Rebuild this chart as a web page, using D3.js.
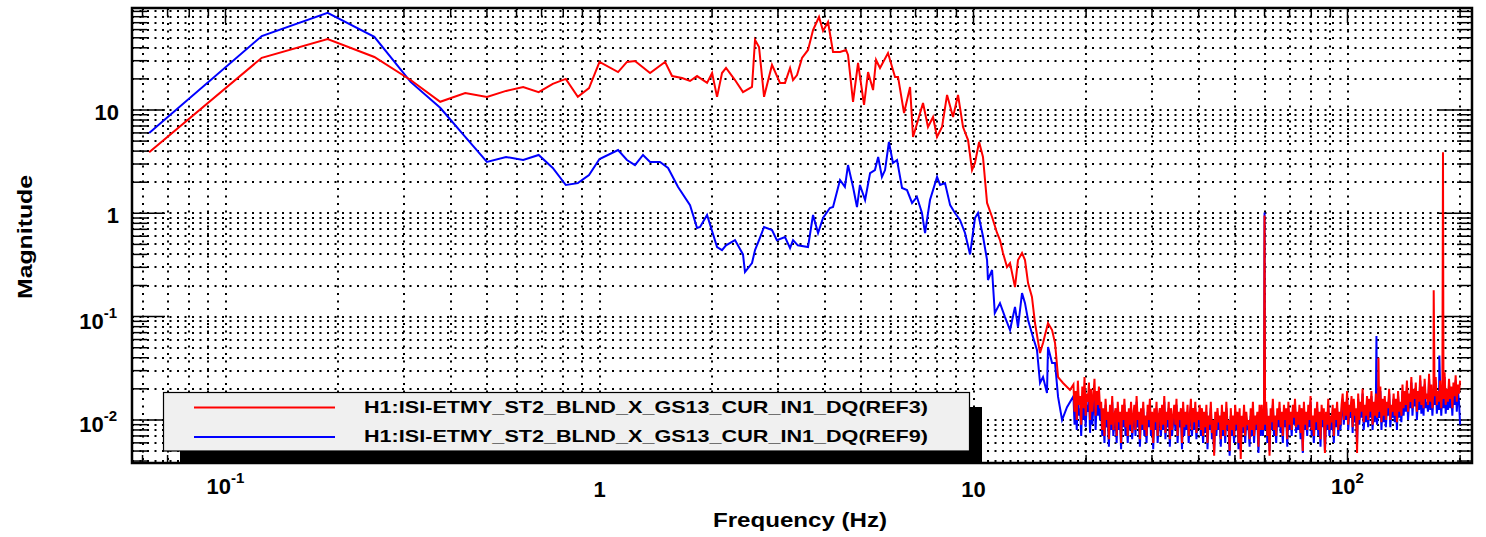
<!DOCTYPE html>
<html>
<head>
<style>
  body { margin: 0; background: #fff; }
  svg text { font-family: "Liberation Sans", Arial, sans-serif; font-weight: bold; fill: #000; }
</style>
</head>
<body>
<div id="graph_div"></div>
<script src="https://cdnjs.cloudflare.com/ajax/libs/d3/7.8.5/d3.min.js"></script>
<script>
// values: [frequency Hz, magnitude]
var redLow = [
  [0.0625, 3.9], [0.125, 32], [0.1875, 48.7], [0.25, 32.6], [0.3125, 19.5], [0.375, 12.0],
  [0.4375, 14.6], [0.5, 13.4], [0.5625, 15.3], [0.625, 16.7], [0.6875, 14.9], [0.75, 17.9],
  [0.8125, 20.0], [0.875, 13.4], [0.9375, 16.3],
  [1.0, 29.2], [1.121, 23.3], [1.184, 29.2], [1.244, 29.8], [1.365, 22.8], [1.497, 29.2],
  [1.563, 21.3], [1.662, 20.4], [1.746, 19.1], [1.823, 21.3], [1.939, 18.3], [2.0, 22.8],
  [2.062, 13.4], [2.126, 22.8], [2.179, 25.5], [2.303, 19.5], [2.419, 14.9], [2.557, 16.7],
  [2.605, 47.6], [2.67, 40.7], [2.754, 13.4], [2.892, 27.3], [3.038, 18.3], [3.133, 18.3],
  [3.232, 25.5], [3.292, 19.5], [3.374, 21.8], [3.479, 31.9], [3.61, 38.1], [3.723, 59.5],
  [3.863, 79.5], [3.96, 58.2], [4.083, 71.1], [4.211, 36.4], [4.396, 36.4], [4.562, 38.1],
  [4.618, 34.1], [4.763, 12.0], [4.912, 28.5], [5.097, 11.2], [5.224, 23.3], [5.388, 15.6],
  [5.488, 30.5], [5.623, 25.5], [5.907, 35.6], [6.168, 20.9], [6.283, 20.9], [6.52, 9.35],
  [6.766, 16.7], [6.892, 5.48], [7.107, 8.0], [7.328, 11.7], [7.556, 6.84], [7.794, 8.56],
  [7.988, 5.48], [8.237, 6.84], [8.497, 14.0], [8.816, 8.56], [9.09, 14.0], [9.375, 6.84],
  [9.67, 5.12], [9.91, 2.62], [10.09, 3.07], [10.35, 4.9], [10.6, 3.51], [10.87, 1.26],
  [11.21, 0.921], [11.56, 0.645], [11.77, 0.551], [11.99, 0.413], [12.29, 0.302], [12.52, 0.33],
  [12.91, 0.193], [13.15, 0.353], [13.48, 0.413], [13.73, 0.353], [13.99, 0.211], [14.33, 0.155],
  [14.6, 0.0867], [15.06, 0.0444], [15.34, 0.0555], [15.82, 0.0867], [16.22, 0.0742], [16.52, 0.0555],
  [16.83, 0.026], [17.35, 0.0228], [18.11, 0.0195]
];
var blueLow = [
  [0.0625, 6.0], [0.125, 52], [0.1875, 87], [0.25, 51], [0.3125, 18.7], [0.375, 10.5],
  [0.4375, 5.5], [0.5, 3.14], [0.5625, 3.51], [0.625, 3.28], [0.6875, 3.67], [0.75, 2.75],
  [0.8125, 1.88], [0.875, 1.96], [0.9375, 2.35],
  [1.0, 3.35], [1.121, 4.1], [1.184, 3.28], [1.244, 2.93], [1.307, 3.67], [1.365, 3.14],
  [1.451, 3.14], [1.525, 2.75], [1.622, 1.8], [1.746, 1.2], [1.823, 0.72], [1.857, 0.737],
  [1.939, 0.963], [2.062, 0.472], [2.126, 0.44], [2.179, 0.49], [2.303, 0.55], [2.419, 0.4],
  [2.449, 0.27], [2.557, 0.33], [2.605, 0.44], [2.67, 0.55], [2.754, 0.737], [2.892, 0.69],
  [2.98, 0.55], [3.133, 0.59], [3.232, 0.461], [3.292, 0.551], [3.39, 0.49], [3.61, 0.472],
  [3.723, 0.963], [3.84, 0.645], [3.96, 0.9], [4.13, 1.125], [4.211, 1.15], [4.396, 2.1],
  [4.53, 1.8], [4.618, 2.93], [4.763, 1.8], [4.88, 1.15], [4.97, 1.88], [5.13, 1.345],
  [5.29, 2.45], [5.45, 2.62], [5.56, 3.51], [5.69, 2.25], [5.8, 2.62], [5.94, 4.9],
  [6.09, 3.07], [6.245, 3.28], [6.44, 1.76], [6.64, 1.68], [6.85, 1.26], [7.06, 1.44],
  [7.28, 1.007], [7.42, 0.645], [7.65, 1.345], [7.99, 2.25], [8.14, 1.88], [8.39, 1.96],
  [8.66, 1.2], [8.92, 1.007], [9.2, 0.862], [9.49, 0.645], [9.79, 0.4], [10.09, 0.9],
  [10.28, 1.007], [10.6, 0.6], [10.87, 0.353], [10.93, 0.226], [11.21, 0.283], [11.4, 0.108],
  [11.77, 0.135], [12.14, 0.099], [12.52, 0.0742], [12.91, 0.124], [13.15, 0.0793], [13.48, 0.169],
  [13.73, 0.135], [13.99, 0.0927], [14.42, 0.0634], [14.78, 0.0475], [15.06, 0.0228], [15.34, 0.026],
  [15.72, 0.0182], [15.82, 0.0508], [16.22, 0.0355], [16.52, 0.0355], [16.83, 0.0167], [17.25, 0.00998],
  [17.78, 0.0133]
];

// dense noise floor, evenly spaced in log frequency from hiStart to hiEnd (values in units of 1e-3)
var hiStart = 18.5, hiEnd = 200;
var redHiMilli = [
  22,12,19,10,24,14,17,9,21,13,26,11,18,15,23,10,20,12,17,25,11,19,14,21,13,
  15,8,13,7,16,10,12,6.5,14,9,17,8,11,13,7,15,9.5,12,6,14,10,16,8.5,12,7,13,9,15,7.5,11,
  14,8,17,10,12,6.5,13,9,15,8,11,7,14,10,16,8,12,6,13,9.5,15,7,11,13,8,14,9,17,7.5,12,
  10,15,6.5,13,8,11,14,9,16,7,12,10,13,6,15,8.5,12,9,14,7,11,16,8,13,9.5,15,7.5,12,10,14,8,
  13,7,12,8.5,14,6,11,9,15,7.5,10,4.5,12,8,13,9.5,11,6.5,14,8,12,7,15,9,10,5,13,8,11,7,
  14,9,12,6,13,4.2,11,8.5,14,7,12,9,10,6.5,13,8,15,7,11,9,12,5.5,14,8,
  14,8,12,9,15,7,11,4.5,13,9.5,16,8,11,7,13,10,15,8.5,12,7,14,10,13,6.5,15,9,12,8,14,10.5,
  16,8.5,12,9,14,7.5,13,5,15,9,12,8,14,10,17,8,11,7,13,9.5,15,8,12,6.5,14,10,13,4.8,12,9,
  16,8,11,9.5,14,7,13,10,15,8,12,9,14,
  18,10,15,11,19,9,14,12,17,8.5,16,11,13,4.8,18,10,15,12,20,9.5,14,11,17,10,16,12,19,9,15,11,
  18,10.5,14,12,21,9.5,16,11,17,10,15,13,20,10,14,12,18,11,16,9.5,19,12,15,11,
  22,13,19,14,24,12,18,15,26,13,20,16,23,12,19,15,27,14,21,13,25,16,18,14,28,15,22,13,20,17,
  26,14,19,15,24,13,22,16,29,14,20,15,25,16,21,13,23,17,27,15,22,18,24
];
var blueHiMilli = [
  17,9,15,8,19,11,13,7,16,10,20,8.5,14,12,18,7.5,15,9,13,19,8,15,11,16,10,
  13,7,11,6,14,8.5,10,5.5,12,8,15,7,9.5,11,6,13,8,10,5.2,12,8.5,14,7,10,6,11,8,13,6.5,9.5,
  12,7,15,8.5,10,5.5,11,8,13,7,9.5,6,12,8.5,14,7,10,5.2,11,8,13,6,9.5,11,7,12,8,15,6.5,10,
  8.5,13,5.5,11,7,9.5,12,8,14,6,10,8.5,11,5.2,13,7,10,8,12,6,9.5,14,7,11,8,13,6.5,10,8.5,12,7,
  11,6,10,7.5,12,5.2,9.5,8,13,6.5,8.5,4.8,10,7,11,8,9.5,5.5,12,7,10,6,13,8,8.5,4.5,11,7,9.5,6,
  12,8,10,5.2,11,5,9.5,7.5,12,6,10,8,8.5,5.5,11,7,13,6,9.5,8,10,4.8,12,7,
  12,7,10.5,8,13,6,9.5,5,11,8,14,7,9.5,6,11,8.5,13,7.5,10,6,12,8.5,11,5.5,13,8,10,7,12,9,
  14,7.5,10,8,12,6.5,11,4.8,13,8,10,7,12,8.5,15,7,9.5,6,11,8,13,7,10,5.5,12,8.5,11,5,10,8,
  14,7,9.5,8,12,6,11,8.5,13,7,10,8,12,
  16,9,13,10,17,8,12,10.5,15,7.5,14,9.5,11,6,16,9,13,10.5,18,8,12,9.5,15,8.5,14,10.5,17,8,13,9.5,
  16,9,12,10.5,19,8,14,9.5,15,8.5,13,11,18,8.5,12,10.5,16,9.5,14,8,17,10.5,13,9.5,
  19,11,16,12,21,10,15,13,23,11,17,13.5,20,10,16,12.5,24,11.5,18,11,22,13,15,12,25,12.5,19,11,17,14,
  23,11.5,16,12.5,21,11,19,13,26,11.5,17,12.5,22,13,18,11,20,14,24,12,19,15,9
];
// narrow lines (mains harmonics etc.)
var redSpikes = [[60, 0.95], [121, 0.04], [170, 0.18], [180, 3.9]];
var blueSpikes = [[60, 1.02], [119.5, 0.065], [176, 0.042]];

var xTicks = [0.1, 1, 10, 100];
var xTickLabels = [["10", "-1"], ["1", ""], ["10", ""], ["10", "2"]];
var yTicks = [0.01, 0.1, 1, 10];
var yTickLabels = [["10", "-2"], ["10", "-1"], ["1", ""], ["10", ""]];
var legendNames = ["H1:ISI-ETMY_ST2_BLND_X_GS13_CUR_IN1_DQ(REF3)", "H1:ISI-ETMY_ST2_BLND_X_GS13_CUR_IN1_DQ(REF9)"];
var legendColors = ["#ff0000", "#0000ff"];

var W = 1486, H = 537;
var frame = {left: 132, right: 1472, top: 8, bottom: 463};

var svg = d3.select("#graph_div").append("svg")
    .attr("width", W).attr("height", H);

var x = d3.scaleLog().domain([0.05623, 215.2]).range([frame.left, frame.right]);
var y = d3.scaleLog().domain([0.00383, 97.1]).range([frame.bottom, frame.top]);

function buildSeries(low, hiMilli, spikes) {
  var n = hiMilli.length;
  var hiPts = hiMilli.map(function(v, i) {
    return [hiStart * Math.pow(hiEnd / hiStart, i / (n - 1)), v / 1000];
  });
  var pts = low.concat(hiPts, spikes);
  pts.sort(function(a, b) { return a[0] - b[0]; });
  return pts;
}

// minor/major positions for grid + ticks
function logSteps(lo, hi) {
  var out = [];
  for (var e = Math.floor(Math.log10(lo)); e <= Math.ceil(Math.log10(hi)); e++) {
    for (var m = 1; m <= 9; m++) {
      var v = m * Math.pow(10, e);
      if (v >= lo && v <= hi) out.push({v: v, major: m === 1});
    }
  }
  return out;
}
var xSteps = logSteps(x.domain()[0], x.domain()[1]);
var ySteps = logSteps(y.domain()[0], y.domain()[1]);

// dotted grid
var grid = svg.append("g").attr("stroke", "#000").attr("stroke-width", 2)
    .attr("stroke-dasharray", "2,5.5");
grid.selectAll(".gx").data(xSteps).enter().append("line")
    .attr("x1", function(d) { return Math.round(x(d.v)); }).attr("x2", function(d) { return Math.round(x(d.v)); })
    .attr("y1", frame.top).attr("y2", frame.bottom);
grid.selectAll(".gy").data(ySteps).enter().append("line")
    .attr("y1", function(d) { return Math.round(y(d.v)); }).attr("y2", function(d) { return Math.round(y(d.v)); })
    .attr("x1", frame.left).attr("x2", frame.right);

// ticks on all four sides, pointing inward
var ticks = svg.append("g").attr("stroke", "#000").attr("stroke-width", 1.5);
xSteps.forEach(function(d) {
  var len = d.major ? 15 : 8, px = x(d.v);
  ticks.append("line").attr("x1", px).attr("x2", px).attr("y1", frame.bottom).attr("y2", frame.bottom - len);
  ticks.append("line").attr("x1", px).attr("x2", px).attr("y1", frame.top).attr("y2", frame.top + len);
});
ySteps.forEach(function(d) {
  var len = d.major ? 33 : 15, py = y(d.v);
  ticks.append("line").attr("y1", py).attr("y2", py).attr("x1", frame.left).attr("x2", frame.left + len);
  ticks.append("line").attr("y1", py).attr("y2", py).attr("x1", frame.right).attr("x2", frame.right - len);
});

// curves
svg.append("clipPath").attr("id", "plotclip").append("rect")
    .attr("x", frame.left).attr("y", frame.top)
    .attr("width", frame.right - frame.left).attr("height", frame.bottom - frame.top);

var line = d3.line()
    .x(function(d) { return x(d[0]); })
    .y(function(d) { return y(d[1]); });

var plot = svg.append("g").attr("clip-path", "url(#plotclip)");
plot.append("path").datum(buildSeries(blueLow, blueHiMilli, blueSpikes))
    .attr("fill", "none").attr("stroke", "#0000ff").attr("stroke-width", 2).attr("d", line);
plot.append("path").datum(buildSeries(redLow, redHiMilli, redSpikes))
    .attr("fill", "none").attr("stroke", "#ff0000").attr("stroke-width", 2).attr("d", line);

// legend with shadow
svg.append("rect").attr("x", 180).attr("y", 407).attr("width", 802).attr("height", 55).attr("fill", "#000");
svg.append("rect").attr("x", 163.5).attr("y", 392.5).attr("width", 806).attr("height", 58.5)
    .attr("fill", "#f0f0f0").attr("stroke", "#000").attr("stroke-width", 1.2);
legendNames.forEach(function(name, i) {
  var ly = 407.5 + i * 29.5;
  svg.append("line").attr("x1", 194).attr("x2", 335).attr("y1", ly).attr("y2", ly)
      .attr("stroke", legendColors[i]).attr("stroke-width", 2);
  svg.append("text").attr("x", 364).attr("y", ly + 5)
      .attr("font-size", "16.5px").attr("textLength", 564).attr("lengthAdjust", "spacingAndGlyphs")
      .text(name);
});

// frame
svg.append("rect").attr("x", frame.left).attr("y", frame.top)
    .attr("width", frame.right - frame.left).attr("height", frame.bottom - frame.top)
    .attr("fill", "none").attr("stroke", "#000").attr("stroke-width", 2.5);

// tick labels
function tickLabel(g, parts) {
  g.append("tspan").text(parts[0]);
  if (parts[1]) g.append("tspan").attr("dy", -11).attr("font-size", "15px").text(parts[1]);
}
xTicks.forEach(function(t, i) {
  var lab = xTickLabels[i];
  var g = svg.append("text").attr("x", x(t)).attr("y", lab[1] ? 493.5 : 497)
      .attr("text-anchor", "middle").attr("font-size", "22px");
  tickLabel(g, lab);
});
yTicks.forEach(function(t, i) {
  var lab = yTickLabels[i];
  var g = svg.append("text").attr("x", lab[1] ? 117 : 119).attr("y", y(t) + (lab[1] ? 12.5 : 10))
      .attr("text-anchor", "end").attr("font-size", "22px");
  tickLabel(g, lab);
});

// axis titles
svg.append("text").attr("x", 800).attr("y", 527).attr("text-anchor", "middle")
    .attr("font-size", "21px").attr("textLength", 174).attr("lengthAdjust", "spacingAndGlyphs")
    .text("Frequency (Hz)");
svg.append("text").attr("transform", "translate(32,237) rotate(-90)").attr("text-anchor", "middle")
    .attr("font-size", "21px").attr("textLength", 124).attr("lengthAdjust", "spacingAndGlyphs")
    .text("Magnitude");
</script>
</body>
</html>
